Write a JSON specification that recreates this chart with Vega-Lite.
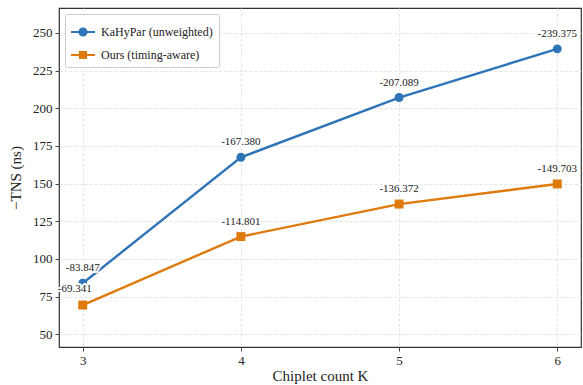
{
  "$schema": "https://vega.github.io/schema/vega-lite/v6.json",
  "width": 522,
  "height": 339,
  "autosize": {"type": "none"},
  "padding": {"left": 59, "top": 8, "right": 2, "bottom": 38},
  "background": "white",
  "config": {
    "font": "Liberation Serif",
    "view": {"stroke": "#333", "strokeWidth": 1.2},
    "axis": {
      "labelFont": "Liberation Serif",
      "titleFont": "Liberation Serif",
      "labelFontSize": 13,
      "titleFontSize": 15,
      "titleFontWeight": "normal",
      "labelColor": "#222",
      "titleColor": "#222",
      "domain": false,
      "tickColor": "#444",
      "tickSize": 4,
      "gridColor": "#dddddd",
      "gridDash": [3, 2],
      "gridWidth": 0.8
    },
    "legend": {
      "labelFont": "Liberation Serif",
      "labelFontSize": 12,
      "labelColor": "#222"
    }
  },
  "data": {
    "values": [
      {"K": 3, "tns": 83.847, "label": "-83.847", "series": "KaHyPar (unweighted)"},
      {"K": 4, "tns": 167.380, "label": "-167.380", "series": "KaHyPar (unweighted)"},
      {"K": 5, "tns": 207.089, "label": "-207.089", "series": "KaHyPar (unweighted)"},
      {"K": 6, "tns": 239.375, "label": "-239.375", "series": "KaHyPar (unweighted)"},
      {"K": 3, "tns": 69.341, "label": "-69.341", "series": "Ours (timing-aware)"},
      {"K": 4, "tns": 114.801, "label": "-114.801", "series": "Ours (timing-aware)"},
      {"K": 5, "tns": 136.372, "label": "-136.372", "series": "Ours (timing-aware)"},
      {"K": 6, "tns": 149.703, "label": "-149.703", "series": "Ours (timing-aware)"}
    ]
  },
  "resolve": {"scale": {"color": "independent", "shape": "independent"}},
  "encoding": {
    "x": {
      "field": "K",
      "type": "quantitative",
      "scale": {"domain": [2.85, 6.15], "nice": false, "zero": false},
      "axis": {"values": [3, 4, 5, 6], "title": "Chiplet count K", "titlePadding": 1, "labelPadding": 3}
    },
    "y": {
      "field": "tns",
      "type": "quantitative",
      "scale": {"domain": [41.5, 266.5], "nice": false, "zero": false},
      "axis": {"values": [50, 75, 100, 125, 150, 175, 200, 225, 250], "title": "−TNS (ns)", "titlePadding": 9, "labelPadding": 3}
    }
  },
  "layer": [
    {
      "mark": {"type": "line", "strokeWidth": 2.4},
      "encoding": {
        "color": {
          "field": "series",
          "type": "nominal",
          "scale": {"domain": ["KaHyPar (unweighted)", "Ours (timing-aware)"], "range": ["#2e74b7", "#df7a0c"]},
          "legend": null
        }
      }
    },
    {
      "mark": {"type": "point", "filled": true, "size": 80, "opacity": 1},
      "encoding": {
        "color": {
          "field": "series",
          "type": "nominal",
          "scale": {"domain": ["KaHyPar (unweighted)", "Ours (timing-aware)"], "range": ["#2e74b7", "#df7a0c"]},
          "legend": null
        },
        "shape": {
          "field": "series",
          "type": "nominal",
          "scale": {"domain": ["KaHyPar (unweighted)", "Ours (timing-aware)"], "range": ["circle", "square"]},
          "legend": null
        }
      }
    },
    {
      "transform": [{"filter": "!(datum.K == 3 && datum.series == 'Ours (timing-aware)')"}],
      "mark": {"type": "text", "dy": -15, "fontSize": 11, "stroke": "white", "strokeWidth": 4, "strokeJoin": "round", "color": "white"},
      "encoding": {"text": {"field": "label"}}
    },
    {
      "transform": [{"filter": "!(datum.K == 3 && datum.series == 'Ours (timing-aware)')"}],
      "mark": {"type": "text", "dy": -15, "fontSize": 11, "color": "#222"},
      "encoding": {"text": {"field": "label"}}
    },
    {
      "transform": [{"filter": "datum.K == 3 && datum.series == 'Ours (timing-aware)'"}],
      "mark": {"type": "text", "dy": -16, "dx": -8, "fontSize": 11, "stroke": "white", "strokeWidth": 4, "strokeJoin": "round", "color": "white"},
      "encoding": {"text": {"field": "label"}}
    },
    {
      "transform": [{"filter": "datum.K == 3 && datum.series == 'Ours (timing-aware)'"}],
      "mark": {"type": "text", "dy": -16, "dx": -8, "fontSize": 11, "color": "#222"},
      "encoding": {"text": {"field": "label"}}
    },
    {
      "mark": {"type": "point", "filled": true, "opacity": 0, "size": 576},
      "encoding": {
        "color": {
          "field": "series",
          "type": "nominal",
          "scale": {"domain": ["KaHyPar (unweighted)", "Ours (timing-aware)"], "range": ["#2e74b7", "#df7a0c"]},
          "legend": {
            "orient": "top-left",
            "title": null,
            "offset": 6,
            "padding": 6,
            "rowPadding": 5,
            "fillColor": "white",
            "strokeColor": "#cccccc",
            "cornerRadius": 2,
            "symbolOpacity": 1,
            "symbolSize": 576,
            "symbolStrokeWidth": 0,
            "labelOffset": 6
          }
        },
        "shape": {
          "field": "series",
          "type": "nominal",
          "scale": {
            "domain": ["KaHyPar (unweighted)", "Ours (timing-aware)"],
            "range": [
              "M-1,-0.09H1V0.09H-1Z M0.38,0A0.38,0.38 0 1 1 -0.38,0A0.38,0.38 0 1 1 0.38,0Z",
              "M-1,-0.09H1V0.09H-1Z M-0.34,-0.34H0.34V0.34H-0.34Z"
            ]
          },
          "legend": {
            "orient": "top-left",
            "title": null,
            "offset": 6,
            "padding": 6,
            "rowPadding": 5,
            "fillColor": "white",
            "strokeColor": "#cccccc",
            "cornerRadius": 2,
            "symbolOpacity": 1,
            "symbolSize": 576,
            "symbolStrokeWidth": 0,
            "labelOffset": 6
          }
        }
      }
    }
  ]
}
